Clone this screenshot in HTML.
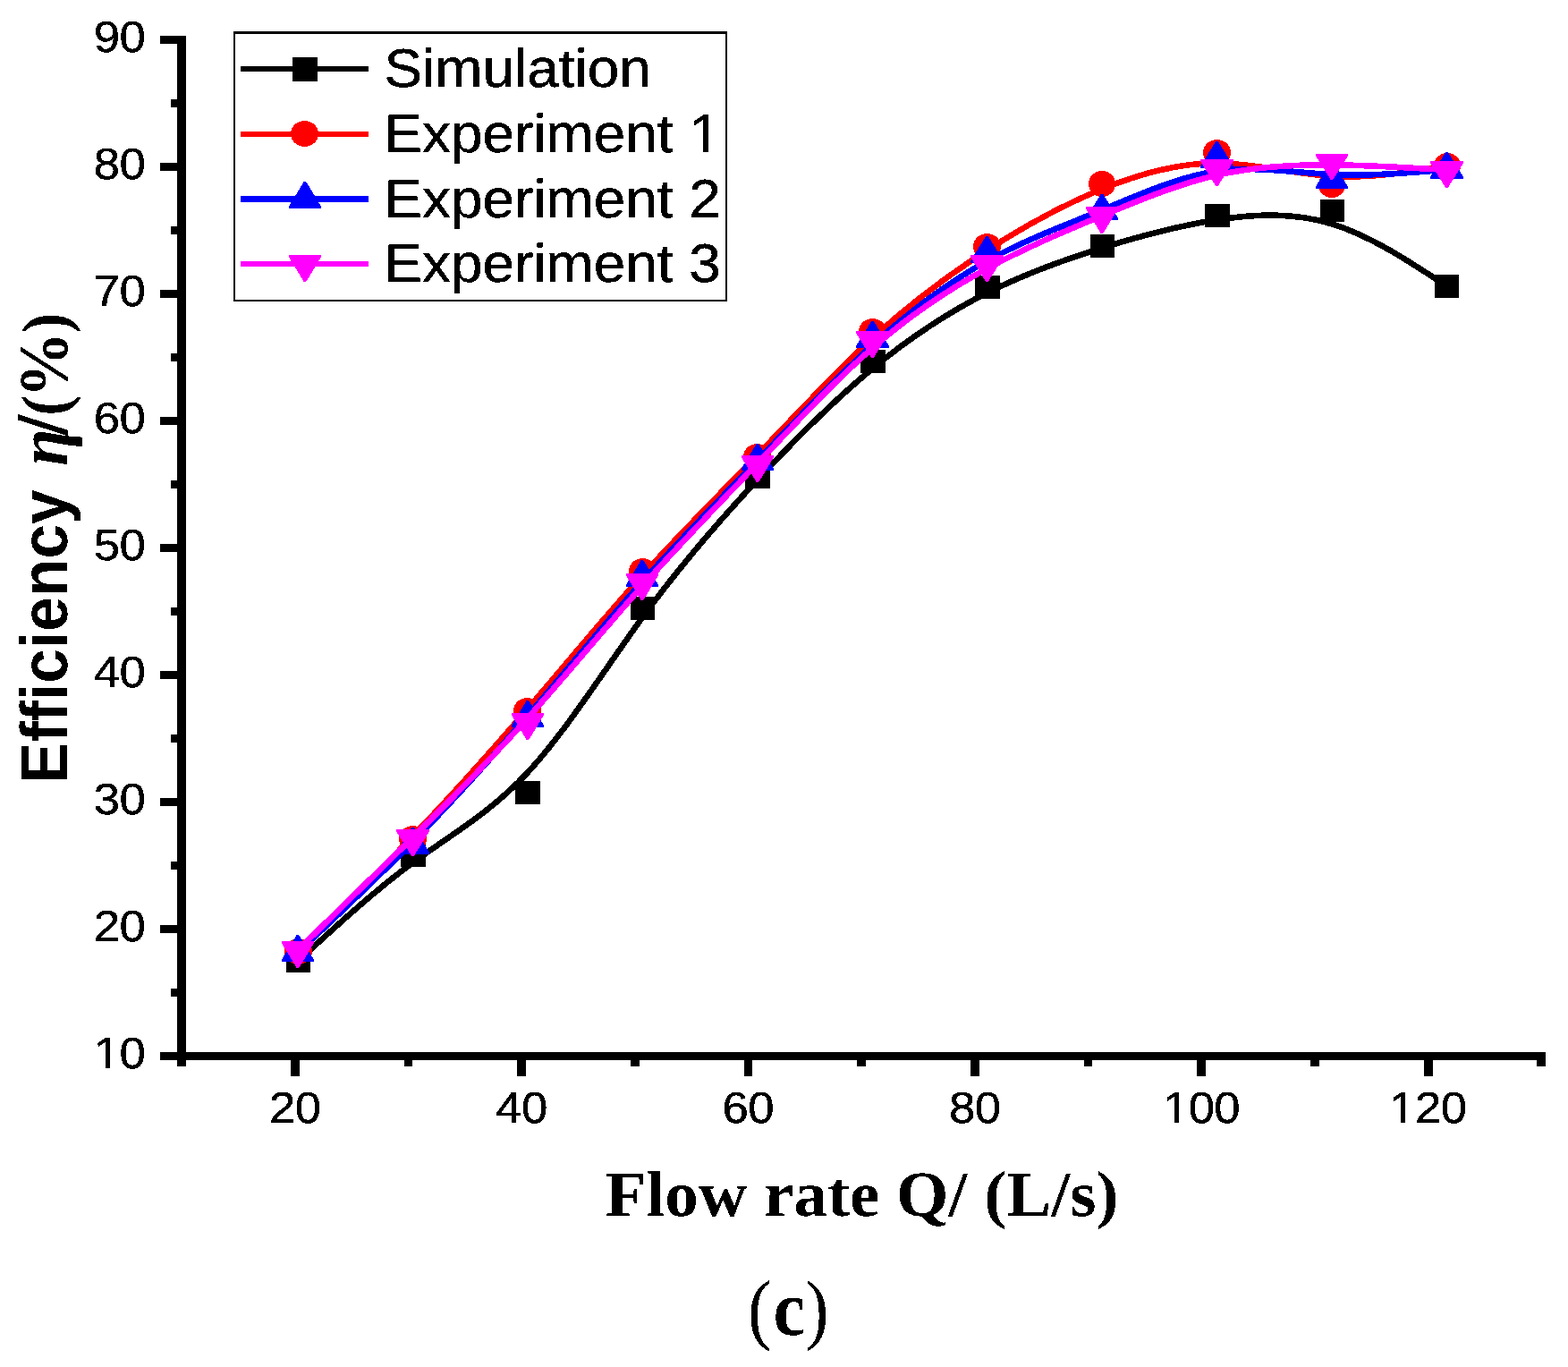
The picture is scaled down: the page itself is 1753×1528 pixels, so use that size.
<!DOCTYPE html>
<html lang="en"><head><meta charset="utf-8"><title>Efficiency versus flow rate (c)</title>
<style>
html,body{margin:0;padding:0;background:#fff;}
body{width:1753px;height:1528px;overflow:hidden;}
svg{display:block;}
.sans{font-family:"Liberation Sans",Arial,Helvetica,sans-serif;}
.serif{font-family:"Liberation Serif","Times New Roman",Times,serif;}
text{fill:#000;text-rendering:geometricPrecision;}
</style></head><body>
<svg width="1753" height="1528" viewBox="0 0 1753 1528" role="img" aria-label="Efficiency versus flow rate">
<rect x="0" y="0" width="1753" height="1528" fill="#fff"/>
<defs><filter id="thr" x="0" y="0" width="1753" height="1528" filterUnits="userSpaceOnUse" color-interpolation-filters="sRGB"><feComponentTransfer><feFuncA type="discrete" tableValues="0 1"/></feComponentTransfer></filter></defs>
<g id="axes" fill="#000" shape-rendering="crispEdges">
<rect x="198" y="40" width="10" height="1152"/>
<rect x="179" y="1176" width="1549" height="9"/>
<rect x="179" y="1176" width="20" height="9"/>
<rect x="179" y="1034" width="20" height="9"/>
<rect x="179" y="892" width="20" height="9"/>
<rect x="179" y="750" width="20" height="9"/>
<rect x="179" y="608" width="20" height="9"/>
<rect x="179" y="466" width="20" height="9"/>
<rect x="179" y="324" width="20" height="9"/>
<rect x="179" y="182" width="20" height="9"/>
<rect x="179" y="40" width="20" height="9"/>
<rect x="191" y="1105" width="8" height="9"/>
<rect x="191" y="963" width="8" height="9"/>
<rect x="191" y="821" width="8" height="9"/>
<rect x="191" y="679" width="8" height="9"/>
<rect x="191" y="537" width="8" height="9"/>
<rect x="191" y="395" width="8" height="9"/>
<rect x="191" y="253" width="8" height="9"/>
<rect x="191" y="111" width="8" height="9"/>
<rect x="198" y="1184" width="10" height="8"/>
<rect x="325" y="1184" width="10" height="19"/>
<rect x="452" y="1184" width="9" height="8"/>
<rect x="578" y="1184" width="10" height="19"/>
<rect x="705" y="1184" width="10" height="8"/>
<rect x="832" y="1184" width="9" height="19"/>
<rect x="958" y="1184" width="10" height="8"/>
<rect x="1085" y="1184" width="10" height="19"/>
<rect x="1212" y="1184" width="9" height="8"/>
<rect x="1338" y="1184" width="10" height="19"/>
<rect x="1465" y="1184" width="10" height="8"/>
<rect x="1592" y="1184" width="10" height="19"/>
<rect x="1718" y="1184" width="10" height="8"/>
</g>
<g id="ticklabels" filter="url(#thr)">
<g id="ylabels" class="sans" font-size="49.20" letter-spacing="-0.50" text-anchor="end" stroke="#000" stroke-width="0.40" stroke-linejoin="round">
<text transform="translate(162.30 1194.30) scale(1.0700 1.0000)" x="0" y="0">10</text>
<text transform="translate(162.30 1052.30) scale(1.0700 1.0000)" x="0" y="0">20</text>
<text transform="translate(162.30 910.30) scale(1.0700 1.0000)" x="0" y="0">30</text>
<text transform="translate(162.30 768.30) scale(1.0700 1.0000)" x="0" y="0">40</text>
<text transform="translate(162.30 626.30) scale(1.0700 1.0000)" x="0" y="0">50</text>
<text transform="translate(162.30 484.30) scale(1.0700 1.0000)" x="0" y="0">60</text>
<text transform="translate(162.30 342.30) scale(1.0700 1.0000)" x="0" y="0">70</text>
<text transform="translate(162.30 200.30) scale(1.0700 1.0000)" x="0" y="0">80</text>
<text transform="translate(162.30 58.30) scale(1.0700 1.0000)" x="0" y="0">90</text>
</g>
<g id="xlabels" class="sans" font-size="49.20" letter-spacing="-0.50" text-anchor="middle" stroke="#000" stroke-width="0.40" stroke-linejoin="round">
<text transform="translate(329.67 1255.30) scale(1.0700 1.0000)" x="0" y="0">20</text>
<text transform="translate(583.00 1255.30) scale(1.0700 1.0000)" x="0" y="0">40</text>
<text transform="translate(836.34 1255.30) scale(1.0700 1.0000)" x="0" y="0">60</text>
<text transform="translate(1089.67 1255.30) scale(1.0700 1.0000)" x="0" y="0">80</text>
<text transform="translate(1343.00 1255.30) scale(1.0700 1.0000)" x="0" y="0">100</text>
<text transform="translate(1596.34 1255.30) scale(1.0700 1.0000)" x="0" y="0">120</text>
</g>
</g>
<g id="titles" filter="url(#thr)">
<text id="ytitle" transform="translate(75.00 876.00) rotate(-90) scale(1 1.0660)" font-weight="bold" class="sans" font-size="69.40" letter-spacing="0.1">Efficiency <tspan class="serif" font-style="italic" font-size="75.00" dx="7.00">η</tspan><tspan class="serif" font-size="78.00" dx="-6.50" stroke="#000" stroke-width="1.2">/</tspan><tspan class="serif" font-size="69.00" dx="-0.50">(</tspan><tspan class="serif" font-size="73.00" dx="-2.50">%</tspan><tspan class="serif" font-size="69.00" dx="-1.75">)</tspan></text>
<text id="xtitle" transform="translate(676.50 1359.30) scale(1.0440 1)" font-weight="bold" class="serif" font-size="72.00">Flow rate Q/ (L/s)</text>
<text id="caption" transform="translate(836.00 1492.20) scale(0.9080 1)" class="serif" font-size="88.00">(<tspan font-weight="bold" dx="2.20">c</tspan><tspan dx="0.00">)</tspan></text>
</g>
<g id="series" shape-rendering="crispEdges" fill="none" stroke-width="6.60" stroke-linejoin="round" stroke-linecap="butt">
<g id="s-sim"><path d="M333.50 1074.00C376.33 1034.63 419.17 995.27 461.92 963.93C504.67 932.60 547.33 909.30 590.08 863.32C632.83 817.33 675.67 748.67 718.50 689.83C761.33 631.00 804.17 582.00 847.08 536.00C890.00 490.00 933.00 447.00 975.83 411.65C1018.67 376.30 1061.33 348.60 1104.08 327.10C1146.83 305.60 1189.67 290.30 1232.50 276.97C1275.33 263.63 1318.17 252.27 1361.00 245.67C1403.83 239.08 1446.67 237.27 1489.42 250.42C1532.17 263.57 1574.83 291.68 1617.50 319.80" stroke="#000"/>
<rect x="320" y="1061" width="27" height="26" fill="#000"/><rect x="448" y="943" width="28" height="26" fill="#000"/><rect x="576" y="873" width="28" height="26" fill="#000"/><rect x="705" y="667" width="27" height="26" fill="#000"/><rect x="833" y="520" width="28" height="26" fill="#000"/><rect x="962" y="391" width="28" height="26" fill="#000"/><rect x="1090" y="308" width="28" height="26" fill="#000"/><rect x="1219" y="262" width="27" height="26" fill="#000"/><rect x="1347" y="228" width="28" height="26" fill="#000"/><rect x="1476" y="223" width="27" height="25" fill="#000"/><rect x="1604" y="307" width="27" height="26" fill="#000"/></g>
<g id="s-exp1"><path d="M333.00 1063.50C375.83 1021.50 418.67 979.50 461.50 934.67C504.33 889.83 547.17 842.17 589.92 792.33C632.67 742.50 675.33 690.50 718.17 643.17C761.00 595.83 804.00 553.17 846.92 508.50C889.83 463.83 932.67 417.17 975.42 378.00C1018.17 338.83 1060.83 307.17 1103.58 279.67C1146.33 252.17 1189.17 228.83 1232.00 211.33C1274.83 193.83 1317.67 182.17 1360.50 182.33C1403.33 182.50 1446.17 194.50 1489.00 197.00C1531.83 199.50 1574.67 192.50 1617.50 185.50" stroke="#f00"/>
<ellipse cx="333.50" cy="1063.50" rx="15.50" ry="14.50" fill="#f00"/><ellipse cx="461.50" cy="937.50" rx="15.50" ry="14.50" fill="#f00"/><ellipse cx="589.50" cy="794.50" rx="15.50" ry="14.50" fill="#f00"/><ellipse cx="718.50" cy="638.50" rx="15.50" ry="14.50" fill="#f00"/><ellipse cx="846.50" cy="510.50" rx="15.50" ry="14.50" fill="#f00"/><ellipse cx="975.50" cy="370.50" rx="15.50" ry="14.50" fill="#f00"/><ellipse cx="1103.50" cy="275.50" rx="15.50" ry="14.50" fill="#f00"/><ellipse cx="1232.00" cy="205.50" rx="15.00" ry="14.50" fill="#f00"/><ellipse cx="1360.50" cy="170.50" rx="15.50" ry="14.50" fill="#f00"/><ellipse cx="1489.00" cy="206.50" rx="15.00" ry="14.50" fill="#f00"/><ellipse cx="1618.00" cy="185.50" rx="15.00" ry="14.50" fill="#f00"/></g>
<g id="s-exp2"><path d="M333.00 1064.70C375.83 1024.70 418.67 984.70 461.50 941.03C504.33 897.37 547.17 850.03 589.92 800.20C632.67 750.37 675.33 698.03 718.17 650.20C761.00 602.37 804.00 559.03 846.92 514.53C889.83 470.03 932.67 424.37 975.42 385.70C1018.17 347.03 1060.83 315.37 1103.58 291.70C1146.33 268.03 1189.17 252.37 1232.00 234.70C1274.83 217.03 1317.67 197.37 1360.50 191.37C1403.33 185.37 1446.17 193.03 1489.00 195.03C1531.83 197.03 1574.67 193.37 1617.50 189.70" stroke="#00f"/>
<path d="M331.8 1045.0L334.2 1045.0L351.0 1072.6L351.0 1075.0L315.0 1075.0L315.0 1072.6Z" fill="#00f"/><path d="M460.3 925.0L462.7 925.0L480.0 952.6L480.0 955.0L443.0 955.0L443.0 952.6Z" fill="#00f"/><path d="M588.8 783.0L591.2 783.0L608.0 810.6L608.0 813.0L572.0 813.0L572.0 810.6Z" fill="#00f"/><path d="M716.8 626.0L719.2 626.0L736.0 653.6L736.0 656.0L700.0 656.0L700.0 653.6Z" fill="#00f"/><path d="M845.8 496.0L848.2 496.0L865.0 523.6L865.0 526.0L829.0 526.0L829.0 523.6Z" fill="#00f"/><path d="M974.3 359.0L976.7 359.0L994.0 386.6L994.0 389.0L957.0 389.0L957.0 386.6Z" fill="#00f"/><path d="M1102.3 264.0L1104.7 264.0L1122.0 291.6L1122.0 294.0L1085.0 294.0L1085.0 291.6Z" fill="#00f"/><path d="M1230.8 217.0L1233.2 217.0L1250.0 243.6L1250.0 246.0L1214.0 246.0L1214.0 243.6Z" fill="#00f"/><path d="M1359.3 158.0L1361.7 158.0L1379.0 185.6L1379.0 188.0L1342.0 188.0L1342.0 185.6Z" fill="#00f"/><path d="M1487.8 181.0L1490.2 181.0L1507.0 208.6L1507.0 211.0L1471.0 211.0L1471.0 208.6Z" fill="#00f"/><path d="M1616.3 170.0L1618.7 170.0L1636.0 197.6L1636.0 200.0L1599.0 200.0L1599.0 197.6Z" fill="#00f"/></g>
<g id="s-exp3"><path d="M333.00 1062.00C375.83 1020.33 418.67 978.67 461.50 936.17C504.33 893.67 547.17 850.33 589.92 802.67C632.67 755.00 675.33 703.00 718.17 655.00C761.00 607.00 804.00 563.00 846.92 517.83C889.83 472.67 932.67 426.33 975.42 389.00C1018.17 351.67 1060.83 323.33 1103.58 300.17C1146.33 277.00 1189.17 259.00 1232.00 241.17C1274.83 223.33 1317.67 205.67 1360.50 195.83C1403.33 186.00 1446.17 184.00 1489.00 184.33C1531.83 184.67 1574.67 187.33 1617.50 190.00" stroke="#f0f"/>
<path d="M331.8 1082.0L334.2 1082.0L351.0 1054.4L351.0 1052.0L315.0 1052.0L315.0 1054.4Z" fill="#f0f"/><path d="M460.3 957.0L462.7 957.0L480.0 929.4L480.0 927.0L443.0 927.0L443.0 929.4Z" fill="#f0f"/><path d="M588.8 827.0L591.2 827.0L608.0 799.4L608.0 797.0L572.0 797.0L572.0 799.4Z" fill="#f0f"/><path d="M716.8 671.0L719.2 671.0L736.0 643.4L736.0 641.0L700.0 641.0L700.0 643.4Z" fill="#f0f"/><path d="M845.8 539.0L848.2 539.0L865.0 511.4L865.0 509.0L829.0 509.0L829.0 511.4Z" fill="#f0f"/><path d="M974.3 400.0L976.7 400.0L994.0 372.4L994.0 370.0L957.0 370.0L957.0 372.4Z" fill="#f0f"/><path d="M1102.3 315.0L1104.7 315.0L1122.0 287.4L1122.0 285.0L1085.0 285.0L1085.0 287.4Z" fill="#f0f"/><path d="M1230.8 261.0L1233.2 261.0L1250.0 233.4L1250.0 231.0L1214.0 231.0L1214.0 233.4Z" fill="#f0f"/><path d="M1359.3 208.0L1361.7 208.0L1379.0 180.4L1379.0 178.0L1342.0 178.0L1342.0 180.4Z" fill="#f0f"/><path d="M1487.8 201.0L1490.2 201.0L1507.0 174.4L1507.0 172.0L1471.0 172.0L1471.0 174.4Z" fill="#f0f"/><path d="M1616.3 210.0L1618.7 210.0L1636.0 182.4L1636.0 180.0L1599.0 180.0L1599.0 182.4Z" fill="#f0f"/></g>
</g>
<g id="legend">
<g shape-rendering="crispEdges"><rect x="261" y="35" width="552" height="302" fill="#000"/><rect x="263" y="38" width="548" height="297" fill="#fff"/></g>
<g shape-rendering="crispEdges">
<rect x="269" y="74" width="143" height="6" fill="#000"/>
<rect x="269" y="147" width="143" height="6" fill="#f00"/>
<rect x="269" y="219" width="143" height="7" fill="#00f"/>
<rect x="269" y="292" width="143" height="6" fill="#f0f"/>
<rect x="327" y="64" width="28" height="27" fill="#000"/>
<ellipse cx="340.50" cy="149.50" rx="15.50" ry="14.50" fill="#f00"/>
<path d="M339.8 203.0L342.2 203.0L359.0 230.6L359.0 233.0L323.0 233.0L323.0 230.6Z" fill="#00f"/>
<path d="M339.8 315.0L342.2 315.0L359.0 287.4L359.0 285.0L323.0 285.0L323.0 287.4Z" fill="#f0f"/>
</g>
<g class="sans" font-size="60.50" stroke="#000" stroke-width="0.40" stroke-linejoin="round" filter="url(#thr)">
<text transform="translate(429.50 97.00) scale(1.0560 1)">Simulation</text>
<text transform="translate(429.50 170.00) scale(1.0560 1)">Experiment 1</text>
<text transform="translate(429.50 243.00) scale(1.0560 1)">Experiment 2</text>
<text transform="translate(429.50 315.00) scale(1.0560 1)">Experiment 3</text>
</g></g>
<g id="digit-trim" fill="#fff" shape-rendering="crispEdges"><rect x="107" y="1189" width="11" height="6"/><rect x="123" y="1189" width="10" height="6"/><rect x="1303" y="1250" width="10" height="6"/><rect x="1318" y="1250" width="10" height="6"/><rect x="1556" y="1250" width="10" height="6"/><rect x="1571" y="1250" width="10" height="6"/><rect x="774" y="164" width="12" height="7"/><rect x="792" y="164" width="12" height="7"/></g>
</svg></body></html>
